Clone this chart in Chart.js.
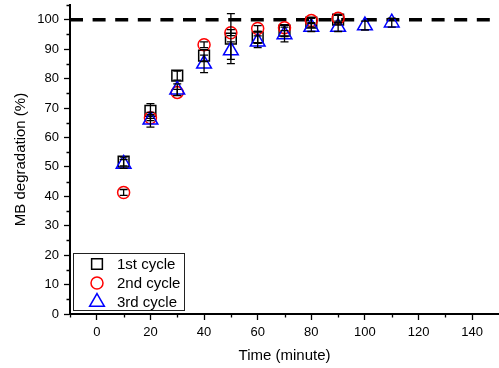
<!DOCTYPE html>
<html lang="en">
<head>
<meta charset="utf-8">
<script src="https://cdn.jsdelivr.net/npm/chart.js"></script>
<style>
  html, body { margin: 0; padding: 0; background: #fff; }
  #wrap { width: 499px; height: 368px; position: relative; }
</style>
</head>
<body>
<div id="wrap"><canvas id="cv" width="499" height="368"></canvas></div>
<script>
// sampling times (minute)
const times12 = [10, 20, 30, 40, 50, 60, 70, 80, 90];
const times3 = [10, 20, 30, 40, 50, 60, 70, 80, 90, 100, 110];

// MB degradation (%) per cycle, with standard deviation
const cycle1 = [51.8, 69, 81, 87.8, 93.6, 94, 96.3, 99, 100];
const cycle1Err = [1.5, 2.5, 1.5, 2, 8.5, 2, 2, 1.5, 1.5];
const cycle2 = [41.3, 66.7, 75.3, 91.5, 95.6, 97, 97.3, 99.7, 100.5];
const cycle2Err = [1, 1, 1, 1, 1, 1, 1, 1, 1];
const cycle3 = [51, 66, 76.2, 85, 89.5, 92.5, 95, 97.5, 97.5, 98, 99];
const cycle3Err = [1.5, 2.5, 2, 3, 3, 2, 2.5, 1.5, 1.5, 1.5, 1.5];

const legendNames = ['1st cycle', '2nd cycle', '3rd cycle'];
const xTicks = [0, 20, 40, 60, 80, 100, 120, 140];
const yTicks = [0, 10, 20, 30, 40, 50, 60, 70, 80, 90, 100];
const refLevel = 100;

const FONT = '"Liberation Sans", Arial, sans-serif';
// plot frame in canvas pixels
const FRAME = { left: 70, right: 499, top: 5, bottom: 314 };

function pts(xs, ys) { return xs.map((x, i) => ({ x: x, y: ys[i] })); }

// pin the plot area to a fixed frame instead of the auto layout
const fixedFrame = {
  id: 'fixedFrame',
  afterLayout(chart) {
    const a = chart.chartArea, xs = chart.scales.x, ys = chart.scales.y;
    a.left = FRAME.left; a.right = FRAME.right; a.top = FRAME.top; a.bottom = FRAME.bottom;
    a.width = a.right - a.left; a.height = a.bottom - a.top;
    xs.left = a.left; xs.right = a.right; xs.width = a.width;
    xs.top = a.bottom; xs.bottom = chart.height; xs.height = xs.bottom - xs.top;
    ys.top = a.top; ys.bottom = a.bottom; ys.height = a.height;
    ys.left = 0; ys.right = a.left; ys.width = a.left;
    xs.configure(); ys.configure();
  }
};

// vertical error bars with caps, in black
const errorBars = {
  id: 'errorBars',
  afterDatasetsDraw(chart) {
    const ctx = chart.ctx, ys = chart.scales.y;
    ctx.save();
    ctx.strokeStyle = '#000';
    ctx.lineWidth = 1.3;
    chart.data.datasets.forEach((ds, di) => {
      if (!ds.errors) return;
      const meta = chart.getDatasetMeta(di);
      meta.data.forEach((el, i) => {
        const v = ds.data[i].y, e = ds.errors[i];
        const top = ys.getPixelForValue(v + e), bot = ys.getPixelForValue(v - e);
        ctx.beginPath();
        ctx.moveTo(el.x, top); ctx.lineTo(el.x, bot);
        ctx.moveTo(el.x - 4, top); ctx.lineTo(el.x + 4, top);
        ctx.moveTo(el.x - 4, bot); ctx.lineTo(el.x + 4, bot);
        ctx.stroke();
      });
    });
    ctx.restore();
  }
};

// minor ticks between labelled ones
const minorTicks = {
  id: 'minorTicks',
  afterDraw(chart) {
    const ctx = chart.ctx, xs = chart.scales.x, ys = chart.scales.y, a = chart.chartArea;
    ctx.save();
    ctx.strokeStyle = '#000';
    ctx.lineWidth = 1.3;
    ctx.beginPath();
    for (let v = 5; v <= 105; v += 10) {
      const p = Math.round(ys.getPixelForValue(v)) + 0.5;
      ctx.moveTo(a.left, p); ctx.lineTo(a.left - 3.5, p);
    }
    for (let v = -10; v <= 130; v += 20) {
      const p = Math.round(xs.getPixelForValue(v)) + 0.5;
      ctx.moveTo(p, a.bottom); ctx.lineTo(p, a.bottom + 3.5);
    }
    ctx.stroke();
    ctx.restore();
  }
};

// framed legend in the lower left corner of the plot
const boxLegend = {
  id: 'boxLegend',
  afterDraw(chart) {
    const ctx = chart.ctx;
    ctx.save();
    ctx.strokeStyle = '#222';
    ctx.lineWidth = 1;
    ctx.strokeRect(73.5, 253.5, 111, 57);
    ctx.font = '15px ' + FONT;
    ctx.textBaseline = 'middle';
    const rows = [264, 283, 302];
    [1, 2, 3].forEach((di, k) => {
      const ds = chart.data.datasets[di];
      ctx.strokeStyle = ds.borderColor;
      ctx.fillStyle = 'rgba(0,0,0,0)';
      ctx.lineWidth = ds.pointBorderWidth;
      Chart.helpers.drawPoint(ctx, {
        pointStyle: ds.pointStyle, radius: ds.pointRadius, rotation: 0,
        borderWidth: ds.pointBorderWidth
      }, 97, rows[k]);
      ctx.fillStyle = '#000';
      ctx.fillText(legendNames[k], 117, rows[k] + 1);
    });
    ctx.restore();
  }
};

new Chart(document.getElementById('cv'), {
  type: 'scatter',
  data: {
    datasets: [
      {
        type: 'line',
        data: [{ x: -10, y: refLevel }, { x: 150, y: refLevel }],
        borderColor: '#000', borderWidth: 3.5, borderDash: [13, 9.6],
        pointRadius: 0, order: 10
      },
      {
        data: pts(times12, cycle1), errors: cycle1Err,
        pointStyle: 'rect', pointRadius: 7.6, pointBorderWidth: 1.5,
        borderColor: '#000', backgroundColor: 'rgba(0,0,0,0)', order: 3
      },
      {
        data: pts(times12, cycle2), errors: cycle2Err,
        pointStyle: 'circle', pointRadius: 6, pointBorderWidth: 1.5,
        borderColor: '#ff0000', backgroundColor: 'rgba(0,0,0,0)', order: 2
      },
      {
        data: pts(times3, cycle3), errors: cycle3Err,
        pointStyle: 'triangle', pointRadius: 8.5, pointBorderWidth: 1.5,
        borderColor: '#0000ff', backgroundColor: 'rgba(0,0,0,0)', order: 1
      }
    ]
  },
  options: {
    responsive: false,
    animation: false,
    plugins: { legend: { display: false }, tooltip: { enabled: false } },
    scales: {
      x: {
        type: 'linear', min: -10, max: 150,
        afterBuildTicks: s => { s.ticks = xTicks.map(v => ({ value: v })); },
        grid: { drawOnChartArea: false, color: '#000', tickLength: 6, tickWidth: 1.3 },
        border: { color: '#000', width: 2 },
        ticks: { color: '#000', font: { family: FONT, size: 13 }, padding: 5 },
        title: { display: true, text: 'Time (minute)', color: '#000', font: { family: FONT, size: 15 }, padding: { top: 4, bottom: 3 } }
      },
      y: {
        min: 0, max: 105,
        afterBuildTicks: s => { s.ticks = yTicks.map(v => ({ value: v })); },
        grid: { drawOnChartArea: false, color: '#000', tickLength: 6, tickWidth: 1.3 },
        border: { color: '#000', width: 2 },
        ticks: { color: '#000', font: { family: FONT, size: 13 }, padding: 5 },
        title: { display: true, text: 'MB degradation (%)', color: '#000', font: { family: FONT, size: 15 }, padding: { top: 12, bottom: 4 } }
      }
    }
  },
  plugins: [fixedFrame, errorBars, minorTicks, boxLegend]
});
</script>
</body>
</html>
